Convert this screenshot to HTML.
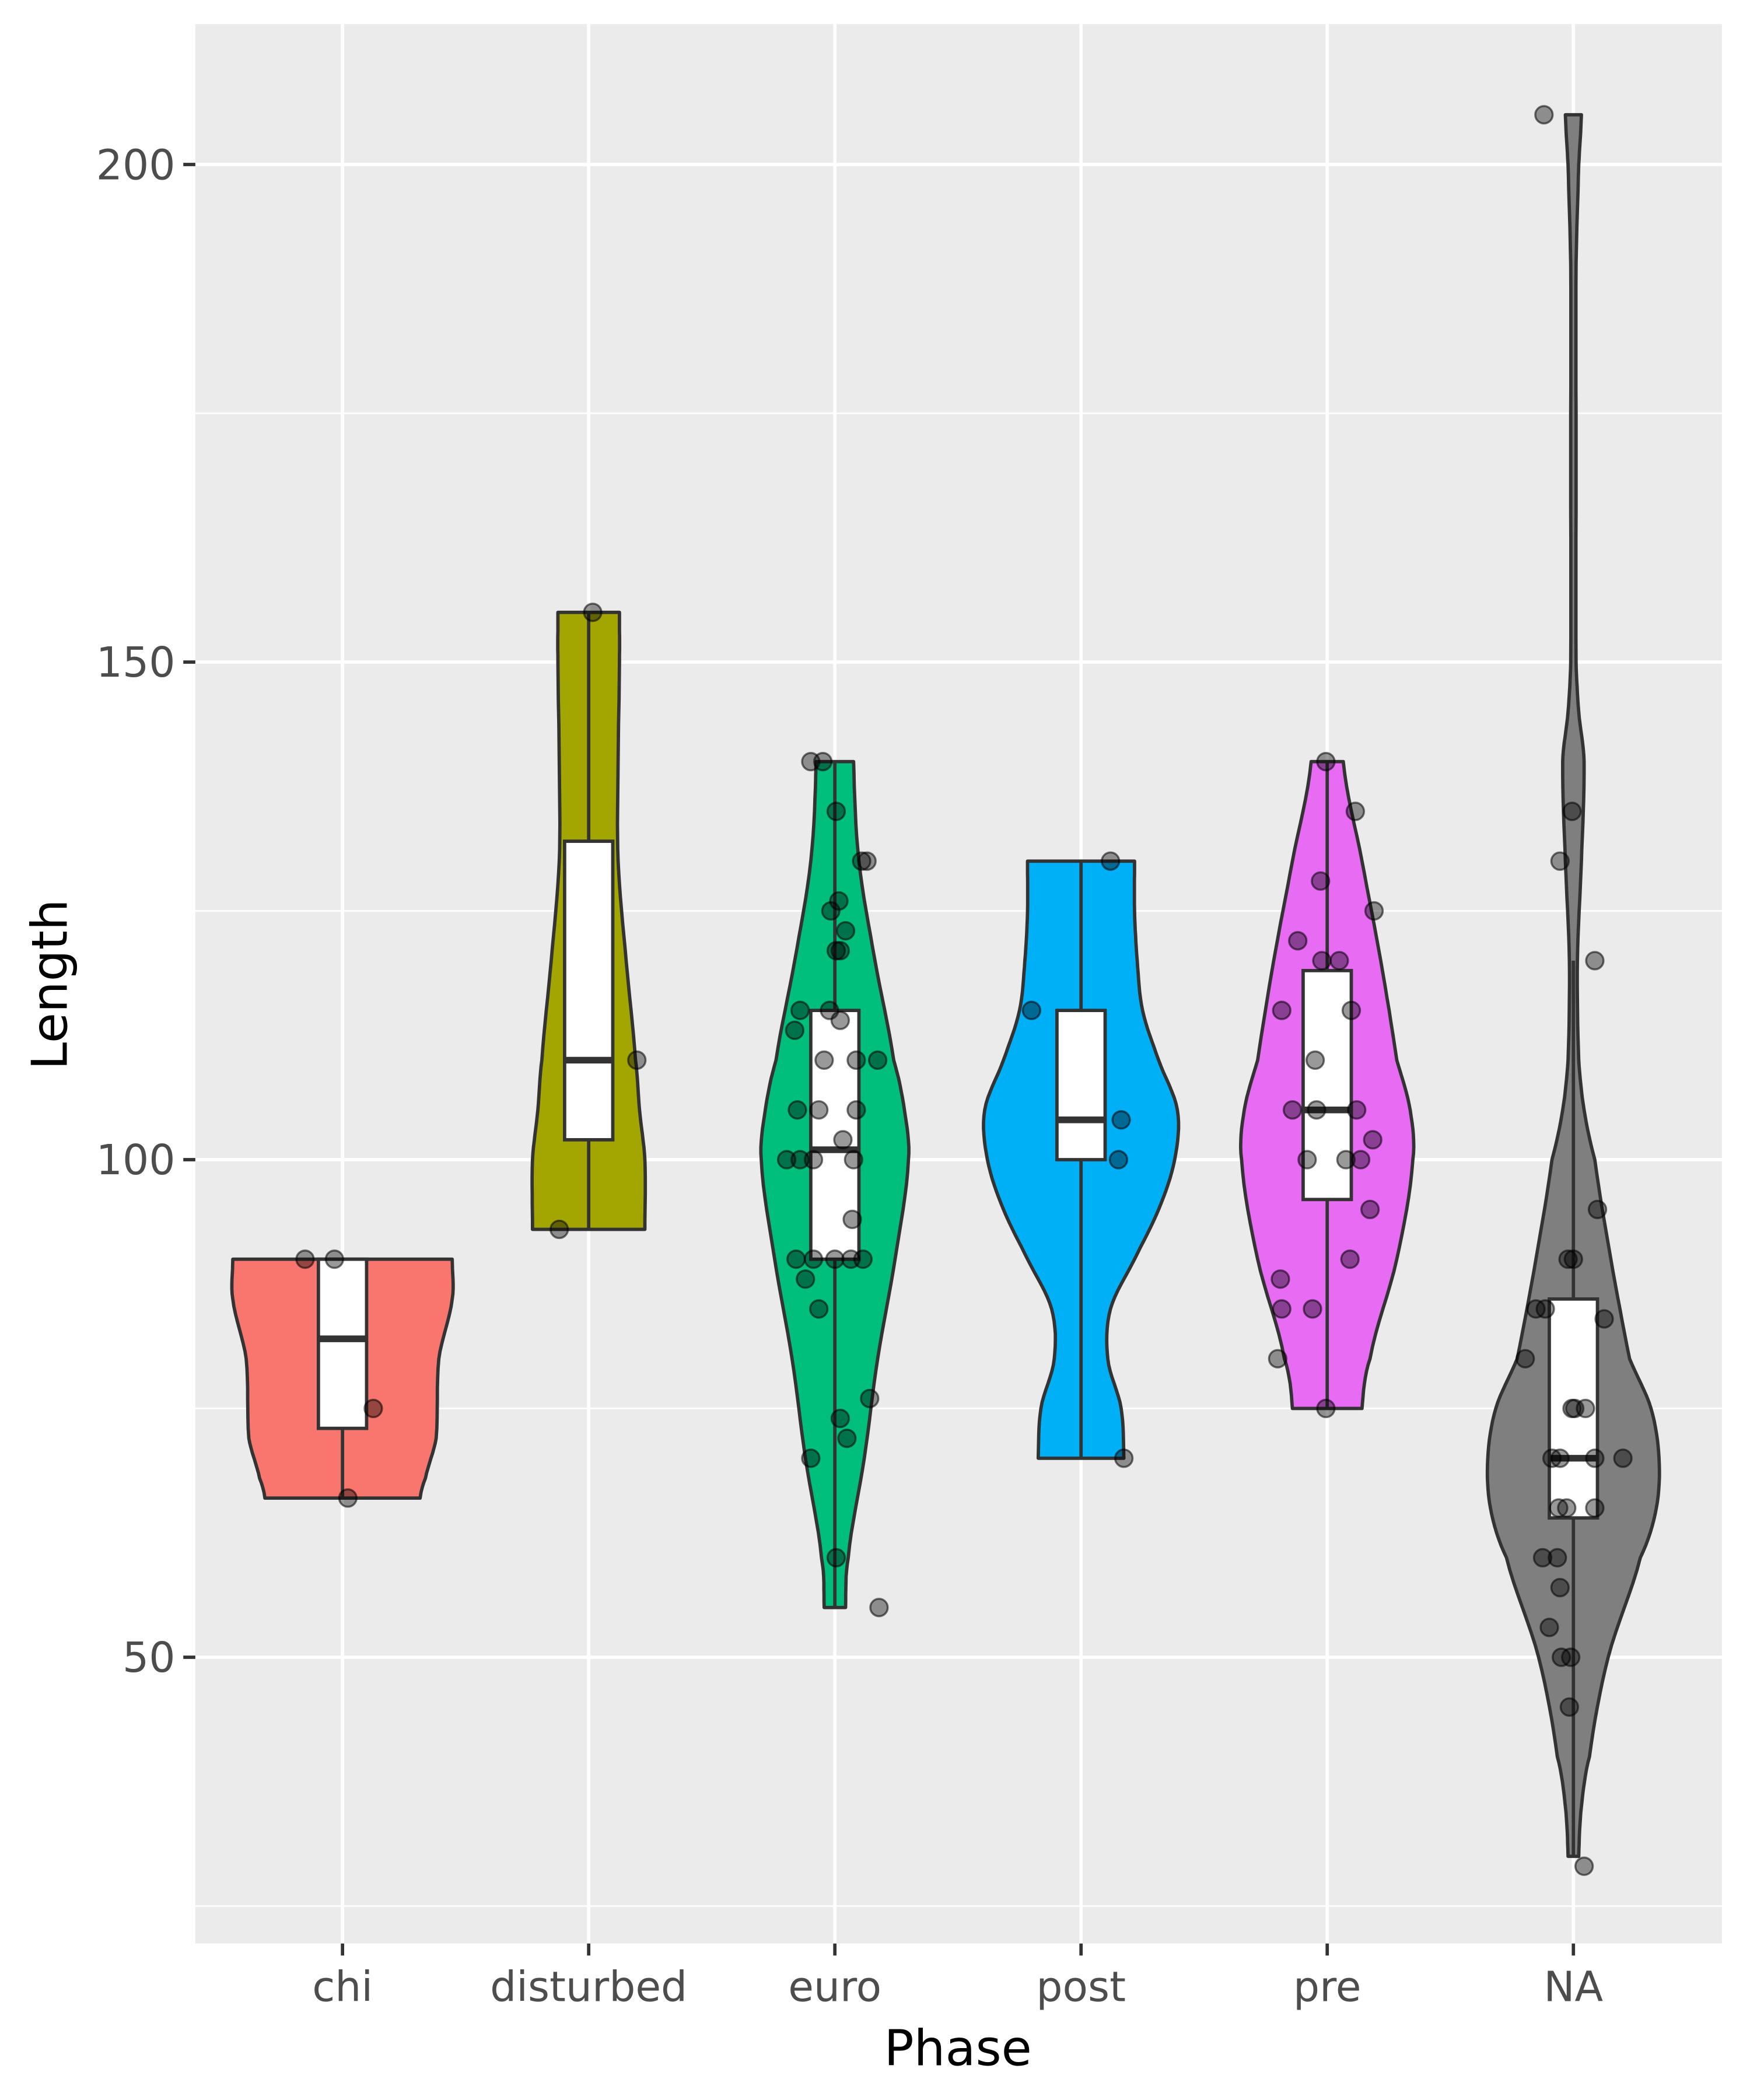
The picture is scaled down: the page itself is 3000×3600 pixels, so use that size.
<!DOCTYPE html>
<html><head><meta charset="utf-8"><style>
html,body{margin:0;padding:0;background:#fff;}
svg{display:block;}
text{font-family:"DejaVu Sans","Liberation Sans",sans-serif;}
</style></head><body>
<svg id="chart" width="3000" height="3600" viewBox="0 0 1308 1570" preserveAspectRatio="none" xmlns="http://www.w3.org/2000/svg">
<rect x="0" y="0" width="1308" height="1570" fill="#fff"/>
<rect x="146" y="18" width="1141" height="1435" fill="#ebebeb"/>
<g id="grid"></g>
<g id="marks"></g>
<g id="axes"></g>
<text x="716" y="1544" font-size="37" text-anchor="middle" fill="#000">Phase</text>
<text x="50" y="736" font-size="37" text-anchor="middle" fill="#000" transform="rotate(-90 50 736)">Length</text>
</svg>
<script>
const categories = ["chi","disturbed","euro","post","pre","NA"];
const colors = ["#F8766D","#A3A500","#00BF7D","#00B0F6","#E76BF3","#7F7F7F"];
const yTicks = [50,100,150,200];
const yMinor = [25,75,125,175];
const violinVals = [
 [66,68,72,80,86,90],
 [93,100,105,110,120,130,140,150,155],
 [55,60,70,80,90,100,105,110,120,130,140],
 [70,75,80,85,90,95,100,105,110,115,120,125,130],
 [75,80,90,100,105,110,120,130,140],
 [30,35,40,50,60,65,70,75,80,90,100,105,110,120,130,140,145,150,170,190,200,205]
];
const violinDens = [
 [58,62,70,72,82,82],
 [42,42,38,35,28,22,22,23,23],
 [8,10,22,32,45,55,52,44,30,18,14],
 [32,30,20,22,40,58,70,72,58,46,42,40,40],
 [26,32,52,64,62,52,40,26,12],
 [4,6,12,26,50,62,64,58,42,28,16,8,4,3,6,8,4,2,2,2,4,6]
];
const q1 = [73,102,90,100,96,64];
const med = [82,110,101,104,105,70];
const q3 = [90,132,115,115,119,86];
const whiskLo = [66,93,55,70,75,30];
const whiskHi = [90,155,140,130,140,120];
const ptVals = [
 [90,90,75,66],
 [155,110,93],
 [140,140,135,130,130,125,126,123,121,121,115,115,113,114,110,110,110,105,105,105,100,100,100,100,102,94,90,90,90,90,90,88,85,76,74,72,70,60,55],
 [115,130,104,100,70],
 [140,135,128,125,122,120,120,115,115,110,105,105,105,100,100,100,102,95,90,88,85,85,80,75],
 [205,135,130,120,95,90,90,84,85,85,80,75,75,75,70,70,70,70,65,65,65,60,60,57,53,50,50,45,29]
];
const ptJits = [
 [-28,-6,23,4],
 [3,36,-22],
 [-18,-9,1,20,24,-3,3,8,4,1,-26,-4,-30,4,-8,16,32,-28,-12,16,-36,-26,-16,14,6,13,-29,-16,0,12,21,-22,-12,26,4,9,-18,1,33],
 [-37,22,30,28,32],
 [-1,21,-5,35,-22,-4,9,-34,18,-9,-26,-8,22,-15,14,25,34,32,17,-35,-34,-11,-37,-1],
 [-22,-1,-10,16,18,-4,0,23,-28,-21,-36,1,9,-1,-16,-10,16,37,-11,-5,16,-23,-12,-10,-18,-9,-2,-3,8]
];

const NS="http://www.w3.org/2000/svg";
const X0=256, DX=184;
function xScale(i){return X0+i*DX;}
function yScale(v){return 867-(v-100)*7.44;}
function mk(tag,attrs,parent){const e=document.createElementNS(NS,tag);for(const k in attrs)e.setAttribute(k,attrs[k]);parent.appendChild(e);return e;}
function smooth(vs,ds){
 const out=[];const n=vs.length;
 for(let k=0;k<n-1;k++){
  const d0=ds[Math.max(k-1,0)],d1=ds[k],d2=ds[k+1],d3=ds[Math.min(k+2,n-1)];
  for(let s=0;s<8;s++){const t=s/8;
   const d=0.5*((2*d1)+(-d0+d2)*t+(2*d0-5*d1+4*d2-d3)*t*t+(-d0+3*d1-3*d2+d3)*t*t*t);
   out.push([vs[k]+(vs[k+1]-vs[k])*t,Math.max(d,1)]);}
 }
 out.push([vs[n-1],ds[n-1]]);return out;
}
const grid=document.getElementById('grid'), marks=document.getElementById('marks'), axes=document.getElementById('axes');
yMinor.forEach(v=>{const l=mk('line',{x1:146,x2:1287,y1:yScale(v),y2:yScale(v),stroke:'#fff','stroke-width':1.2},grid);

});
yTicks.forEach(v=>{const l=mk('line',{x1:146,x2:1287,y1:yScale(v),y2:yScale(v),stroke:'#fff','stroke-width':2.5},grid);


const t=mk('line',{x1:137,x2:146,y1:yScale(v),y2:yScale(v),stroke:'#333','stroke-width':2.5},axes);


const tx=mk('text',{x:131,y:yScale(v)+11,'font-size':31,'text-anchor':'end',fill:'#4d4d4d'},axes);tx.textContent=v;

});
categories.forEach((c,i)=>{const x=xScale(i);
const l=mk('line',{x1:x,x2:x,y1:18,y2:1453,stroke:'#fff','stroke-width':2.5},grid);


const t=mk('line',{x1:x,x2:x,y1:1453,y2:1462,stroke:'#333','stroke-width':2.5},axes);


const tx=mk('text',{x:x,y:1496,'font-size':31,'text-anchor':'middle',fill:'#4d4d4d'},axes);tx.textContent=c;

});
categories.forEach((c,i)=>{const x=xScale(i);
const sm=smooth(violinVals[i],violinDens[i]);
let right=sm.map(p=>[x+p[1],yScale(p[0])]);let left=sm.map(p=>[x-p[1],yScale(p[0])]).reverse();
const pts=right.concat(left).map(p=>p[0].toFixed(1)+','+p[1].toFixed(1)).join(' ');
const p=mk('polygon',{points:pts,fill:colors[i],stroke:'#333','stroke-width':2.5,'stroke-linejoin':'round'},marks);


const w=mk('line',{x1:x,x2:x,y1:yScale(whiskLo[i]),y2:yScale(whiskHi[i]),stroke:'#333','stroke-width':2.5},marks);


const b=mk('rect',{x:x-18,y:yScale(q3[i]),width:36,height:yScale(q1[i])-yScale(q3[i]),fill:'#fff',stroke:'#333','stroke-width':2.5},marks);


const m=mk('line',{x1:x-18,x2:x+18,y1:yScale(med[i]),y2:yScale(med[i]),stroke:'#333','stroke-width':5},marks);

});
ptVals.forEach((arr,g)=>{arr.forEach((v,k)=>{
const c=mk('circle',{cx:xScale(g)+ptJits[g][k],cy:yScale(v),r:6.5,fill:'rgba(0,0,0,0.4)',stroke:'rgba(0,0,0,0.55)','stroke-width':1.5},marks);

});});
</script>
</body></html>
